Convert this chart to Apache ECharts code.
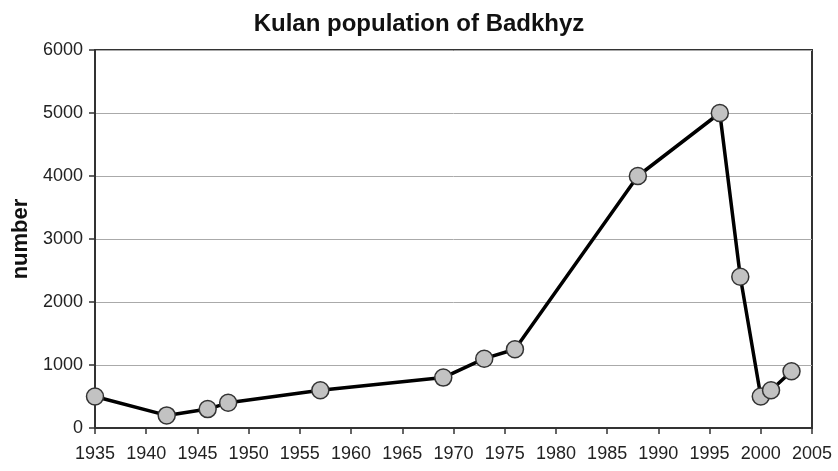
<!DOCTYPE html>
<html>
<head>
<meta charset="utf-8">
<script src="https://cdn.jsdelivr.net/npm/echarts@6/dist/echarts.min.js"></script>
<style>
  html, body { margin: 0; padding: 0; background: #fff; }
  #chart { width: 838px; height: 471px; }
</style>
</head>
<body>
<div id="chart"></div>
<script>
// Kulan population survey data
const years = [1935, 1942, 1946, 1948, 1957, 1969, 1973, 1976, 1988, 1996, 1998, 2000, 2001, 2003]
const counts = [500, 200, 300, 400, 600, 800, 1100, 1250, 4000, 5000, 2400, 500, 600, 900]

const chart = echarts.init(document.getElementById('chart'))

chart.setOption({
  backgroundColor: '#fff',
  animation: false,
  title: {
    text: 'Kulan population of Badkhyz',
    left: 'center',
    top: 7,
    textStyle: { fontFamily: 'Liberation Sans', fontSize: 24, fontWeight: 'bold', color: '#111' }
  },
  grid: {
    left: 95,
    right: 26,
    top: 50,
    bottom: 43,
    show: true,
    borderColor: '#333',
    borderWidth: 2
  },
  xAxis: {
    type: 'value',
    min: 1935,
    max: 2005,
    interval: 5,
    axisLine: { show: true, lineStyle: { color: '#333', width: 2 } },
    axisTick: { show: true, length: 6, lineStyle: { color: '#333', width: 1.5 } },
    axisLabel: {
      color: '#222', fontFamily: 'Liberation Sans', fontSize: 18, margin: 17,
      formatter: v => String(v)
    },
    splitLine: { show: false }
  },
  yAxis: {
    type: 'value',
    min: 0,
    max: 6000,
    interval: 1000,
    name: 'number',
    nameLocation: 'middle',
    nameGap: 60,
    nameTextStyle: { fontFamily: 'Liberation Sans', fontSize: 22, fontWeight: 'bold', color: '#111' },
    axisLine: { show: true, lineStyle: { color: '#333', width: 2 } },
    axisTick: { show: true, length: 6, lineStyle: { color: '#333', width: 1.5 } },
    axisLabel: {
      color: '#222', fontFamily: 'Liberation Sans', fontSize: 18, margin: 12,
      formatter: v => String(v)
    },
    splitLine: { show: true, lineStyle: { color: '#aaa', width: 1 } }
  },
  series: [{
    name: 'Kulan',
    type: 'line',
    data: years.map((y, i) => [y, counts[i]]),
    symbol: 'circle',
    symbolSize: 17,
    lineStyle: { color: '#000', width: 3.5 },
    itemStyle: { color: '#c2c2c2', borderColor: '#333', borderWidth: 1.5 }
  }]
})
</script>
</body>
</html>
